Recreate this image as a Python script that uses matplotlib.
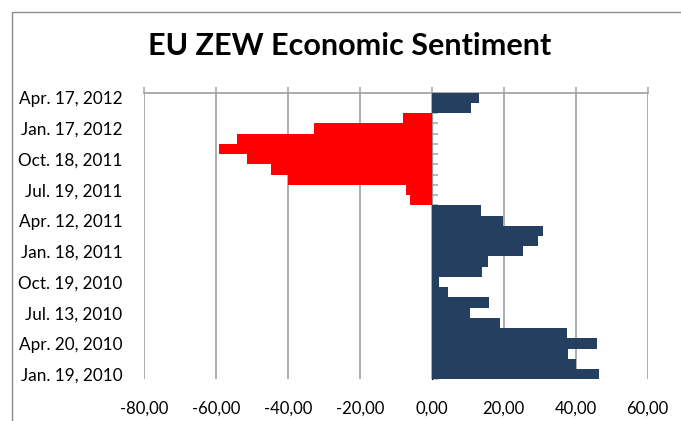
import matplotlib
matplotlib.use("Agg")
import matplotlib.pyplot as plt
from matplotlib.patches import Rectangle
from matplotlib.ticker import FuncFormatter
import numpy as np

# monthly readings, Jan 2010 .. Apr 2012 (bottom to top)
months = ['Jan. 19, 2010', 'Feb 2010', 'Mar 2010', 'Apr. 20, 2010', 'May 2010', 'Jun 2010',
          'Jul. 13, 2010', 'Aug 2010', 'Sep 2010', 'Oct. 19, 2010', 'Nov 2010', 'Dec 2010',
          'Jan. 18, 2011', 'Feb 2011', 'Mar 2011', 'Apr. 12, 2011', 'May 2011', 'Jun 2011',
          'Jul. 19, 2011', 'Aug 2011', 'Sep 2011', 'Oct. 18, 2011', 'Nov 2011', 'Dec 2011',
          'Jan. 17, 2012', 'Feb 2012', 'Mar 2012', 'Apr. 17, 2012']
values = [46.4, 40.2, 37.9, 46.0, 37.6, 18.9,
          10.7, 15.8, 4.4, 1.9, 13.9, 15.6,
          25.5, 29.5, 31.0, 19.7, 13.6, -6.0,
          -7.1, -40.0, -44.6, -51.3, -59.1, -54.1,
          -32.7, -8.1, 11.0, 13.1]
xticks = [-80, -60, -40, -20, 0, 20, 40, 60]

plt.rcParams['font.family'] = ['Lato', 'DejaVu Sans']

fig = plt.figure(figsize=(6.81, 4.21), dpi=100)
fig.patch.set_facecolor('white')
fig.patches.append(Rectangle((11.5 / 681, -0.1), 1.1, 1.1 - 11.7 / 421, transform=fig.transFigure,
                             fill=False, edgecolor='#8c8c8c', linewidth=1.0))

ax = fig.add_axes([144 / 681, 1 - 379.3 / 421, 503.5 / 681, 286.6 / 421])

y = np.arange(len(values))
cols = ['#ff0000' if v < 0 else '#243f60' for v in values]
ax.barh(y, values, height=1.0, color=cols, edgecolor='none', zorder=3)

ax.set_xlim(xticks[0], xticks[-1])
ax.set_ylim(-0.5, len(values) - 0.5)
ax.set_xticks(xticks)
ax.xaxis.set_major_formatter(FuncFormatter(lambda v, p: ('%.2f' % v).replace('.', ',')))
ax.tick_params(axis='x', top=True, bottom=False, labelbottom=True, labeltop=False,
               direction='out', length=4.4, width=1.1, color='#a6a6a6', labelsize=12, pad=11)

lab_idx = list(range(0, len(values), 3))
ax.set_yticks(lab_idx)
ax.set_yticklabels([months[i] for i in lab_idx])
ax.tick_params(axis='y', left=False, labelsize=12.3, pad=12)

ax.grid(axis='x', color='#a6a6a6', linewidth=1.3, zorder=0)
ax.set_axisbelow(True)
for s in ['left', 'right', 'bottom']:
    ax.spines[s].set_visible(False)
ax.spines['top'].set_color('#a6a6a6')
ax.spines['top'].set_linewidth(1.3)

# category axis sits on zero
sec = ax.secondary_yaxis((0 - xticks[0]) / (xticks[-1] - xticks[0]))
sec.set_yticks(np.arange(-0.5, len(values), 1.0))
sec.set_yticklabels([])
sec.tick_params(axis='y', length=4, width=1.1, color='#a6a6a6')
sec.spines['left'].set_color('#a6a6a6')
sec.spines['left'].set_linewidth(1.3)
sec.spines['left'].set_zorder(4)

fig.text(350 / 681, 1 - 46 / 421, 'EU ZEW Economic Sentiment', ha='center', va='center',
         fontsize=22, fontweight='bold')

fig.savefig('out.png', dpi=100)
